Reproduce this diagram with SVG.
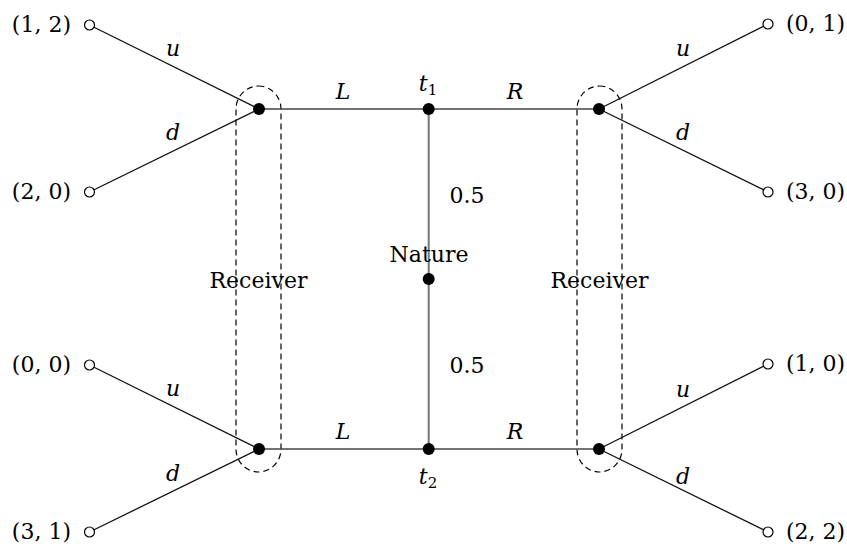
<svg xmlns="http://www.w3.org/2000/svg" width="847" height="550" viewBox="0 0 847 550">
<style>
text{font-family:"DejaVu Serif","Liberation Serif",serif;font-size:22px;fill:#000}
.it{font-style:italic}
.mid{text-anchor:middle}
.end{text-anchor:end}
.edge{stroke:#111;stroke-width:1.3;fill:none}
.hedge{stroke:#444;stroke-width:1.5;fill:none}
.vedge{stroke:#777;stroke-width:2;fill:none}
.info{stroke:#000;stroke-width:1.2;fill:none;stroke-dasharray:6 4}
.dec{fill:#000}
.term{fill:#fff;stroke:#000;stroke-width:1.2}
.sub{font-size:15px}
</style>
<rect width="847" height="550" fill="#fff"/>
<g id="infosets">
<rect id="info-left" class="info" x="236" y="86" width="45" height="386" rx="22.5" ry="23"/>
<rect id="info-right" class="info" x="577" y="86" width="45" height="386" rx="22.5" ry="23"/>
</g>
<g id="connectors">
<line class="edge" x1="89.5" y1="25" x2="259" y2="109"/>
<line class="edge" x1="89.5" y1="192" x2="259" y2="109"/>
<line class="edge" x1="89.5" y1="365" x2="259" y2="449"/>
<line class="edge" x1="89.5" y1="532" x2="259" y2="449"/>
<line class="edge" x1="768" y1="24" x2="599" y2="109"/>
<line class="edge" x1="768" y1="192" x2="599" y2="109"/>
<line class="edge" x1="768" y1="364" x2="599" y2="449"/>
<line class="edge" x1="768" y1="532" x2="599" y2="449"/>
<line class="hedge" x1="259" y1="109" x2="599" y2="109"/>
<line class="hedge" x1="259" y1="449" x2="599" y2="449"/>
<line class="vedge" x1="428.7" y1="109" x2="428.7" y2="449"/>
</g>
<g id="edge-labels">
<text class="it mid" x="173" y="56">u</text>
<text class="it mid" x="173" y="140">d</text>
<text class="it mid" x="173" y="396">u</text>
<text class="it mid" x="173" y="481">d</text>
<text class="it mid" x="683" y="56">u</text>
<text class="it mid" x="683" y="140">d</text>
<text class="it mid" x="683" y="397">u</text>
<text class="it mid" x="683" y="484">d</text>
<text class="it mid" x="343" y="99">L</text>
<text class="it mid" x="515" y="99">R</text>
<text class="it mid" x="343" y="439">L</text>
<text class="it mid" x="515" y="439">R</text>
<text class="mid" x="467" y="203">0.5</text>
<text class="mid" x="467" y="373">0.5</text>
<text class="mid" x="258.5" y="288">Receiver</text>
<text class="mid" x="599.5" y="288">Receiver</text>
</g>
<g id="nature">
<circle class="dec" cx="428.7" cy="279" r="6"/>
<text class="mid" x="429" y="262">Nature</text>
</g>
<g id="t1">
<circle class="dec" cx="428.7" cy="109" r="6"/>
<text class="mid" x="428" y="91"><tspan class="it">t</tspan><tspan class="sub" dy="4">1</tspan></text>
</g>
<g id="t2">
<circle class="dec" cx="428.7" cy="449" r="6"/>
<text class="mid" x="428" y="484"><tspan class="it">t</tspan><tspan class="sub" dy="4">2</tspan></text>
</g>
<g id="recv-tl"><circle class="dec" cx="259" cy="109" r="6"/></g>
<g id="recv-tr"><circle class="dec" cx="599" cy="109" r="6"/></g>
<g id="recv-bl"><circle class="dec" cx="259" cy="449" r="6"/></g>
<g id="recv-br"><circle class="dec" cx="599" cy="449" r="6"/></g>
<g id="term-12"><circle class="term" cx="89.5" cy="25" r="5"/><text class="end" x="71" y="32">(1, 2)</text></g>
<g id="term-20"><circle class="term" cx="89.5" cy="192" r="5"/><text class="end" x="71" y="199">(2, 0)</text></g>
<g id="term-00"><circle class="term" cx="89.5" cy="365" r="5"/><text class="end" x="71" y="372">(0, 0)</text></g>
<g id="term-31"><circle class="term" cx="89.5" cy="532" r="5"/><text class="end" x="71" y="539">(3, 1)</text></g>
<g id="term-01"><circle class="term" cx="768" cy="24" r="5"/><text x="786" y="31">(0, 1)</text></g>
<g id="term-30"><circle class="term" cx="768" cy="192" r="5"/><text x="786" y="199">(3, 0)</text></g>
<g id="term-10"><circle class="term" cx="768" cy="364" r="5"/><text x="786" y="371">(1, 0)</text></g>
<g id="term-22"><circle class="term" cx="768" cy="532" r="5"/><text x="786" y="539">(2, 2)</text></g>
</svg>
